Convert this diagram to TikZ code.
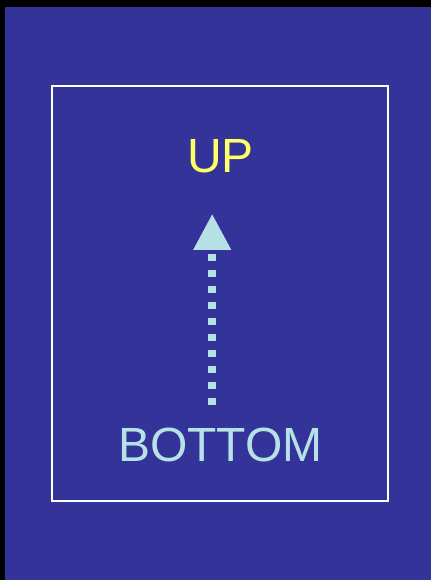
\documentclass[tikz,border=0pt]{standalone}
\usepackage{fontspec}
\setmainfont{Liberation Sans}
\definecolor{slideblue}{RGB}{52, 51, 153}
\definecolor{upyellow}{RGB}{255, 255, 102}
\definecolor{paleblue}{RGB}{182, 225, 230}
\usetikzlibrary{
    arrows.meta,
    positioning
}
\tikzstyle{label} = [
    inner sep=0pt,
    font=\fontsize{48}{50}\selectfont
]
\tikzstyle{flow} = [
    -{Triangle[width=36pt, length=36pt]},
    draw=paleblue,
    line width=7.6pt,
    dash pattern=on 7.6pt off 8.4pt
]

\begin{document}
\begin{tikzpicture}[x=1pt, y=-1pt]
        % Background and frame
        \fill[black] (0,0) rectangle (431,580);
        \fill[slideblue] (5,7) rectangle (431,580);
        \useasboundingbox (0,0) rectangle (431,580);
        \draw[white, line width=1.5pt] (52,86) rectangle (388,501);

        % Labels
        \node[label, text=upyellow] (up) at (220.5,156) {UP};
        \node[label, text=paleblue] (bottom) at (220.5,444.5) {BOTTOM};

        % Arrow from bottom to up (a little left of centre)
        \draw[flow, shorten <=22pt, shorten >=41pt]
            ([xshift=-8.3pt]bottom.north) -- ([xshift=-8.3pt]up.south);
    \end{tikzpicture}
\end{document}
